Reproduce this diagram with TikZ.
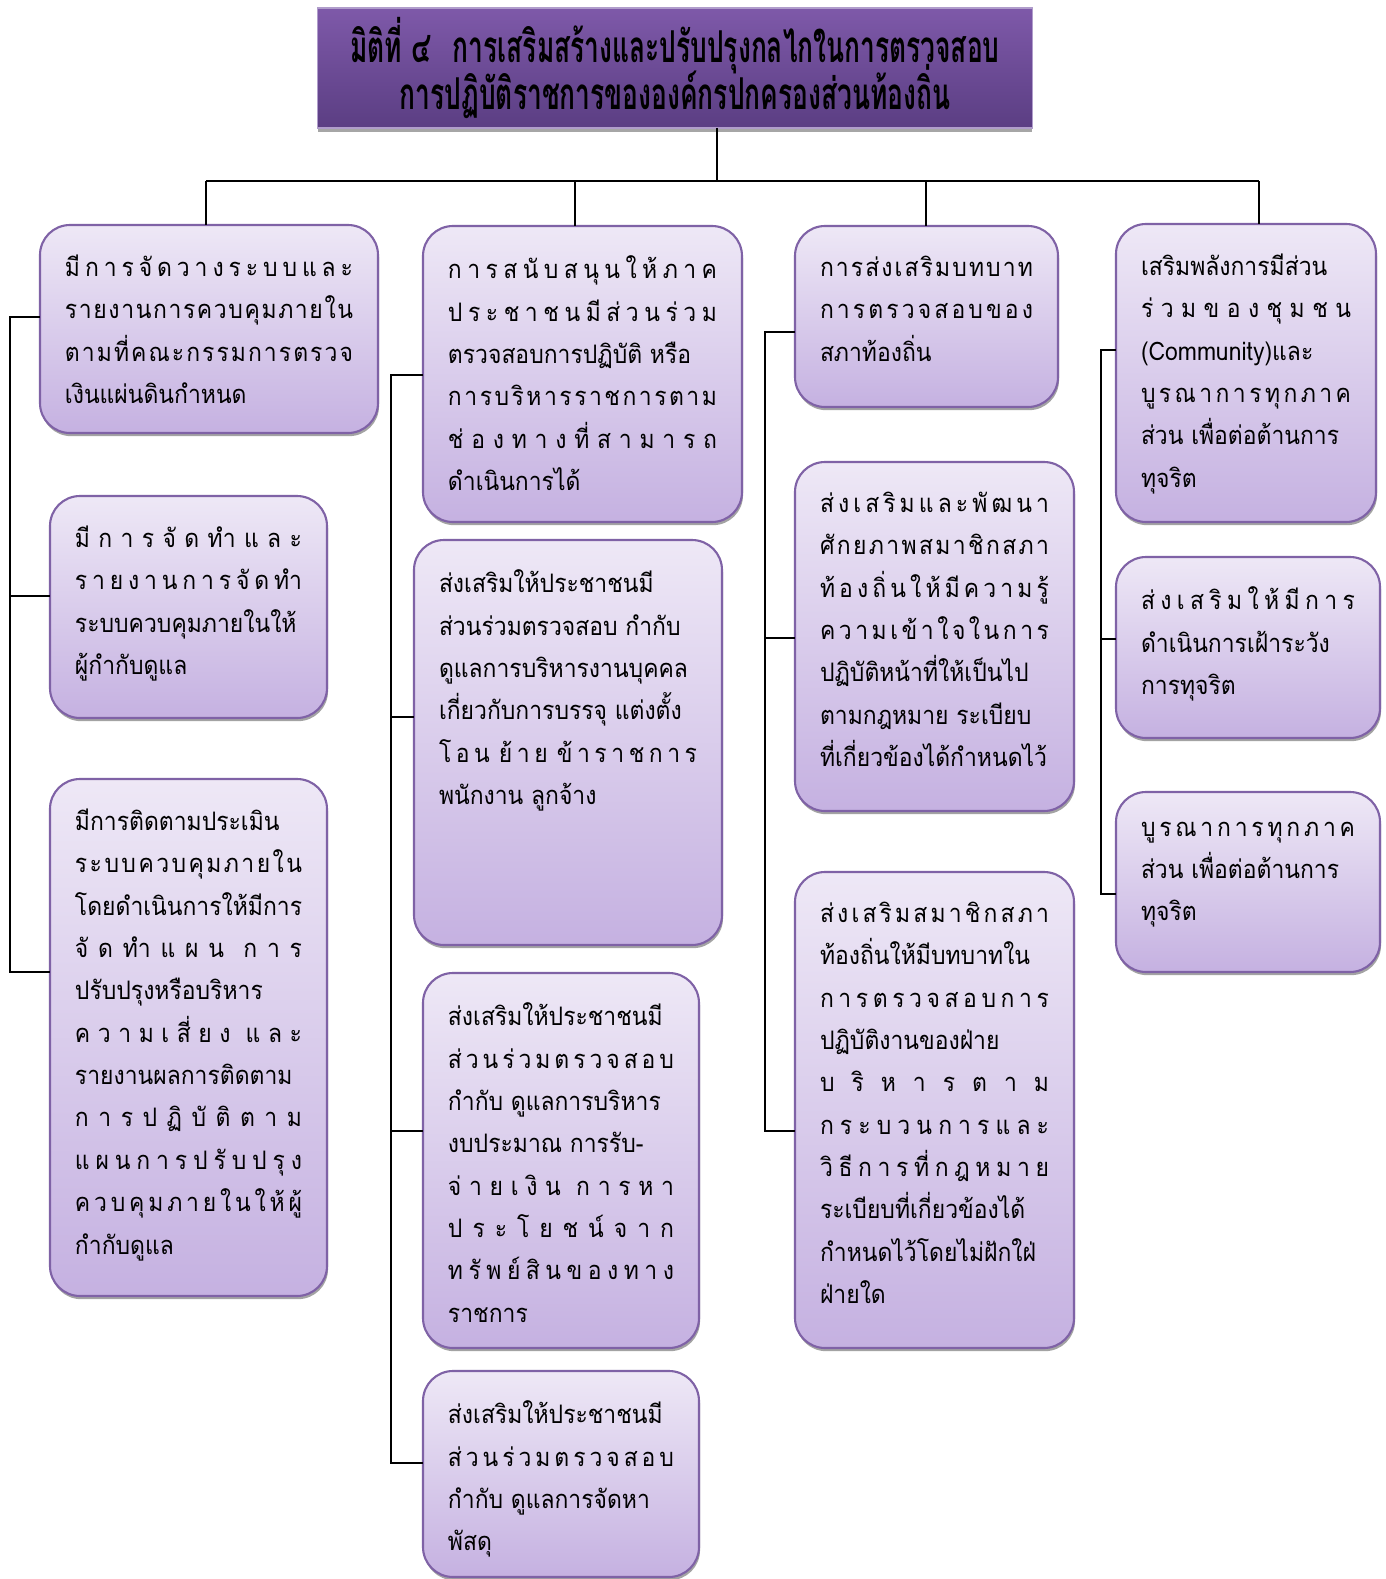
\documentclass[tikz,border=0pt]{standalone}
\usepackage{fontspec}
\setmainfont{Loma}[Script=Thai,FakeStretch=0.9]
\newfontfamily\titlefont{Loma}[Script=Thai,FakeStretch=0.6]
\usetikzlibrary{shadows}
\definecolor{boxtop}{HTML}{EEE8F6}
\definecolor{boxbot}{HTML}{C5B1E1}
\definecolor{boxline}{HTML}{7F62A6}
\definecolor{titletop}{HTML}{7E59A9}
\definecolor{titlebot}{HTML}{5B3E83}
\definecolor{titleline}{HTML}{B09DCB}
\newdimen\px \px=0.02cm
% box text: width, height (in px), lines
\newcommand{\cell}[3]{\parbox[c][#2\px][t]{#1\px}{\raggedright\vspace*{0.3cm}#3}}
% one line spread over the whole width
\newcommand{\dl}[1]{\makebox[\linewidth][s]{\spaceskip=0pt plus 1fil\relax #1}}
\begin{document}
\begin{tikzpicture}[x=0.02cm, y=-0.02cm, line width=1.1pt,
  item/.style={draw=boxline, line width=1.2pt, rounded corners=0.6cm,
    top color=boxtop, bottom color=boxbot, anchor=north west,
    inner xsep=0.5cm, inner ysep=0.3cm, outer sep=0pt,
    font=\fontsize{14.5}{24.1}\selectfont,
    drop shadow={shadow xshift=0.6pt, shadow yshift=-1.8pt, fill=black!45, opacity=0.8}},
  head/.style={draw=titleline, line width=1pt, top color=titletop, bottom color=titlebot,
    minimum width=14.3cm, minimum height=2.4cm, align=center, outer sep=0pt,
    font={\titlefont\bfseries\fontsize{25}{27.3}\selectfont\lineskiplimit=-30pt},
    drop shadow={shadow xshift=0pt, shadow yshift=-2pt, fill=black!35, opacity=1}}]
\fill[white] (0,0) rectangle (1386,1579);
\useasboundingbox (0,0) rectangle (1386,1579);

\node[head] (title) at (675,68) {มิติที่ ๔\enspace การเสริมสร้างและปรับปรุงกลไกในการตรวจสอบ\\
  การปฏิบัติราชการขององค์กรปกครองส่วนท้องถิ่น};

% column 1
\node[item] (a1) at (40,225) {\cell{288}{178}{%
  \dl{มี ก า ร จั ด ว า ง ร ะ บ บ แ ล ะ}\\
  \dl{ร า ย ง า น ก า ร ค ว บ คุ ม ภ า ย ใ น}\\
  \dl{ต า ม ที่ ค ณ ะ ก ร ร ม ก า ร ต ร ว จ}\\
  เงินแผ่นดินกำหนด}};
\node[item] (a2) at (50,496) {\cell{227}{192}{%
  \dl{มี ก า ร จั ด ทำ แ ล ะ}\\
  \dl{ร า ย ง า น ก า ร จั ด ทำ}\\
  ระบบควบคุมภายในให้\\
  ผู้กำกับดูแล}};
\node[item] (a3) at (50,779) {\cell{227}{487}{%
  มีการติดตามประเมิน\\
  \dl{ร ะ บ บ ค ว บ คุ ม ภ า ย ใ น}\\
  โดยดำเนินการให้มีการ\\
  \dl{จั ด ทำ แ ผ น \hfil ก า ร}\\
  ปรับปรุงหรือบริหาร\\
  \dl{ค ว า ม เ สี่ ย ง \hfil แ ล ะ}\\
  รายงานผลการติดตาม\\
  \dl{ก า ร ป ฏิ บั ติ ต า ม}\\
  \dl{แ ผ น ก า ร ป รั บ ป รุ ง}\\
  \dl{ค ว บ คุ ม ภ า ย ใ น ใ ห้ ผู้}\\
  กำกับดูแล}};

% column 2
\node[item] (b1) at (423,226) {\cell{269}{266}{%
  \dl{ก า ร ส นั บ ส นุ น ใ ห้ ภ า ค}\\
  \dl{ป ร ะ ช า ช น มี ส่ ว น ร่ ว ม}\\
  ตรวจสอบการปฏิบัติ หรือ\\
  \dl{ก า ร บ ริ ห า ร ร า ช ก า ร ต า ม}\\
  \dl{ช่ อ ง ท า ง ที่ ส า ม า ร ถ}\\
  ดำเนินการได้}};
\node[item] (b2) at (414,540) {\cell{258}{375}{%
  ส่งเสริมให้ประชาชนมี\\
  ส่วนร่วมตรวจสอบ กำกับ\\
  ดูแลการบริหารงานบุคคล\\
  เกี่ยวกับการบรรจุ แต่งตั้ง\\
  \dl{โ อ น \hfil ย้ า ย \hfil ข้ า ร า ช ก า ร}\\
  พนักงาน ลูกจ้าง}};
\node[item] (b3) at (423,973) {\cell{226}{345}{%
  ส่งเสริมให้ประชาชนมี\\
  \dl{ส่ ว น ร่ ว ม ต ร ว จ ส อ บ}\\
  กำกับ ดูแลการบริหาร\\
  งบประมาณ การรับ-\\
  \dl{จ่ า ย เ งิ น \hfil ก า ร ห า}\\
  \dl{ป ร ะ โ ย ช น์ จ า ก}\\
  \dl{ท รั พ ย์ สิ น ข อ ง ท า ง}\\
  ราชการ}};
\node[item] (b4) at (423,1371) {\cell{226}{176}{%
  ส่งเสริมให้ประชาชนมี\\
  \dl{ส่ ว น ร่ ว ม ต ร ว จ ส อ บ}\\
  กำกับ ดูแลการจัดหา\\
  พัสดุ}};

% column 3
\node[item] (c1) at (795,226) {\cell{213}{151}{%
  \dl{ก า ร ส่ ง เ ส ริ ม บ ท บ า ท}\\
  \dl{ก า ร ต ร ว จ ส อ บ ข อ ง}\\
  สภาท้องถิ่น}};
\node[item] (c2) at (795,462) {\cell{229}{319}{%
  \dl{ส่ ง เ ส ริ ม แ ล ะ พั ฒ น า}\\
  \dl{ศั ก ย ภ า พ ส ม า ชิ ก ส ภ า}\\
  \dl{ท้ อ ง ถิ่ น ใ ห้ มี ค ว า ม รู้}\\
  \dl{ค ว า ม เ ข้ า ใ จ ใ น ก า ร}\\
  ปฏิบัติหน้าที่ให้เป็นไป\\
  ตามกฎหมาย ระเบียบ\\
  ที่เกี่ยวข้องได้กำหนดไว้}};
\node[item] (c3) at (795,872) {\cell{229}{446}{%
  \dl{ส่ ง เ ส ริ ม ส ม า ชิ ก ส ภ า}\\
  ท้องถิ่นให้มีบทบาทใน\\
  \dl{ก า ร ต ร ว จ ส อ บ ก า ร}\\
  ปฏิบัติงานของฝ่าย\\
  \dl{บ ริ ห า ร ต า ม}\\
  \dl{ก ร ะ บ ว น ก า ร แ ล ะ}\\
  \dl{วิ ธี ก า ร ที่ ก ฎ ห ม า ย}\\
  ระเบียบที่เกี่ยวข้องได้\\
  กำหนดไว้โดยไม่ฝักใฝ่\\
  ฝ่ายใด}};

% column 4
\node[item] (d1) at (1116,224) {\cell{210}{268}{%
  เสริมพลังการมีส่วน\\
  \dl{ร่ ว ม ข อ ง ชุ ม ช น}\\
  (Community)และ\\
  \dl{บู ร ณ า ก า ร ทุ ก ภ า ค}\\
  ส่วน เพื่อต่อต้านการ\\
  ทุจริต}};
\node[item] (d2) at (1116,557) {\cell{214}{151}{%
  \dl{ส่ ง เ ส ริ ม ใ ห้ มี ก า ร}\\
  ดำเนินการเฝ้าระวัง\\
  การทุจริต}};
\node[item] (d3) at (1116,792) {\cell{214}{150}{%
  \dl{บู ร ณ า ก า ร ทุ ก ภ า ค}\\
  ส่วน เพื่อต่อต้านการ\\
  ทุจริต}};

% connectors
\coordinate (bus) at (717,181);
\draw (title.south -| bus) -- (bus);
\draw (206,181) -- (1259,181);
\foreach \n/\x in {a1/206,b1/575,c1/926,d1/1259}
  \draw (\x,181) -- (\n.north -| \x,0);
\draw (a1.west |- 0,317) -| (10,972) -- (a3.west |- 0,972);
\draw (10,596) -- (a2.west |- 0,596);
\draw (b1.west |- 0,375) -| (391,1463) -- (b4.west |- 0,1463);
\draw (391,717) -- (b2.west |- 0,717);
\draw (391,1131) -- (b3.west |- 0,1131);
\draw (c1.west |- 0,332) -| (765,1131) -- (c3.west |- 0,1131);
\draw (765,638) -- (c2.west |- 0,638);
\draw (d1.west |- 0,350) -| (1101,894) -- (d3.west |- 0,894);
\draw (1101,639) -- (d2.west |- 0,639);
\end{tikzpicture}
\end{document}
